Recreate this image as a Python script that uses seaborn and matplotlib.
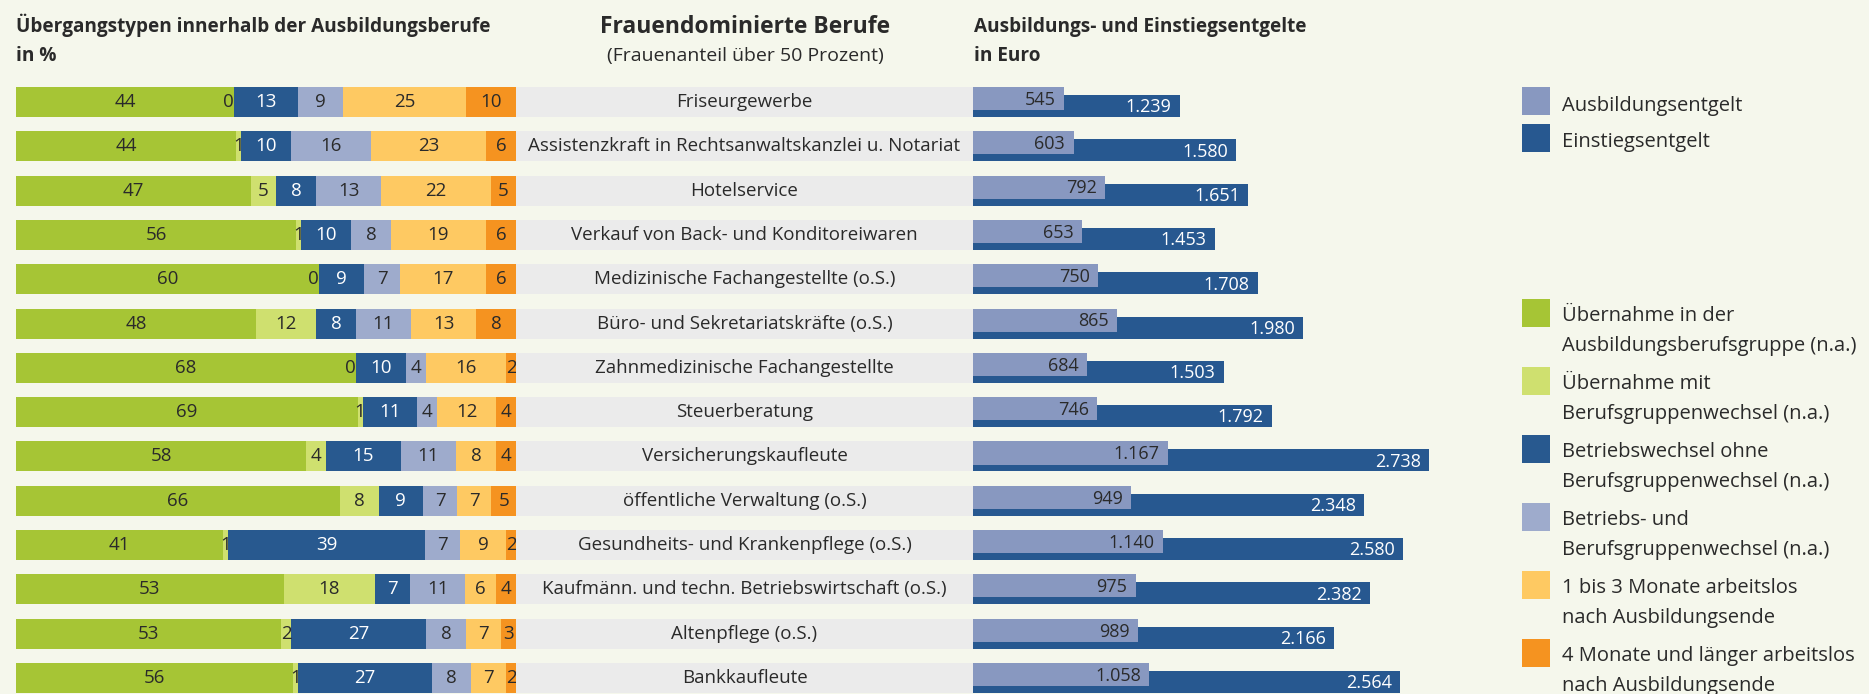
import numpy as np
import pandas as pd
import seaborn as sns
import matplotlib.pyplot as plt
from matplotlib import font_manager
from matplotlib.patches import Rectangle

# Daten
berufe = [
    "Friseurgewerbe",
    "Assistenzkraft in Rechtsanwaltskanzlei u. Notariat",
    "Hotelservice",
    "Verkauf von Back- und Konditoreiwaren",
    "Medizinische Fachangestellte (o.S.)",
    "Büro- und Sekretariatskräfte (o.S.)",
    "Zahnmedizinische Fachangestellte",
    "Steuerberatung",
    "Versicherungskaufleute",
    "öffentliche Verwaltung (o.S.)",
    "Gesundheits- und Krankenpflege (o.S.)",
    "Kaufmänn. und techn. Betriebswirtschaft (o.S.)",
    "Altenpflege (o.S.)",
    "Bankkaufleute",
]
uebernahme = [44, 44, 47, 56, 60, 48, 68, 69, 58, 66, 41, 53, 53, 56]
uebernahme_wechsel = [0, 1, 5, 1, 0, 12, 0, 1, 4, 8, 1, 18, 2, 1]
betrieb_ohne = [13, 10, 8, 10, 9, 8, 10, 11, 15, 9, 39, 7, 27, 27]
betrieb_und = [9, 16, 13, 8, 7, 11, 4, 4, 11, 7, 7, 11, 8, 8]
arbeitslos_1_3 = [25, 23, 22, 19, 17, 13, 16, 12, 8, 7, 9, 6, 7, 7]
arbeitslos_4 = [10, 6, 5, 6, 6, 8, 2, 4, 4, 5, 2, 4, 3, 2]
ausbildungsentgelt = [545, 603, 792, 653, 750, 865, 684, 746, 1167, 949, 1140, 975, 989, 1058]
einstiegsentgelt = [1239, 1580, 1651, 1453, 1708, 1980, 1503, 1792, 2738, 2348, 2580, 2382, 2166, 2564]

typ_labels = [
    "Übernahme in der\nAusbildungsberufsgruppe (n.a.)",
    "Übernahme mit\nBerufsgruppenwechsel (n.a.)",
    "Betriebswechsel ohne\nBerufsgruppenwechsel (n.a.)",
    "Betriebs- und\nBerufsgruppenwechsel (n.a.)",
    "1 bis 3 Monate arbeitslos\nnach Ausbildungsende",
    "4 Monate und länger arbeitslos\nnach Ausbildungsende",
]
typ_colors = ["#a6c535", "#cfe06f", "#28598f", "#9eabcc", "#fec962", "#f59320"]
entgelt_labels = ["Ausbildungsentgelt", "Einstiegsentgelt"]
entgelt_colors = ["#8898c0", "#275890"]

BG = "#f5f7ec"
TXT = "#2a2a2a"

sns.set_style("white")

# schmale Schrift, falls vorhanden
namen = {f.name for f in font_manager.fontManager.ttflist}
if "Liberation Sans Narrow" in namen:
    FONT = "Liberation Sans Narrow"
    fs = dict(seg=15, lab=15, geld=14.5, titel=16, haupt=19, unter=16, leg=17)
else:
    FONT = "Open Sans"
    fs = dict(seg=13.5, lab=13.5, geld=13, titel=13.7, haupt=16.5, unter=14, leg=14.5)
plt.rcParams["font.family"] = [FONT, "DejaVu Sans"]

df = pd.DataFrame(
    {
        "beruf": berufe,
        typ_labels[0]: uebernahme,
        typ_labels[1]: uebernahme_wechsel,
        typ_labels[2]: betrieb_ohne,
        typ_labels[3]: betrieb_und,
        typ_labels[4]: arbeitslos_1_3,
        typ_labels[5]: arbeitslos_4,
    }
)
werte = df[typ_labels]
anteile = werte.div(werte.sum(axis=1), axis=0) * 100
kum = anteile.cumsum(axis=1)

fig = plt.figure(figsize=(18.69, 6.94), dpi=100, facecolor=BG)
W, H = 1869, 694
top_px, bot_px = 79.85, 700.2
ax_b = 1 - bot_px / H
ax_h = (bot_px - top_px) / H

ax_l = fig.add_axes([16 / W, ax_b, 500 / W, ax_h])
ax_m = fig.add_axes([516 / W, ax_b, 457 / W, ax_h])
ax_r = fig.add_axes([973 / W, ax_b, 500 / W, ax_h])

# links: gestapelte Balken (kumuliert, von hinten nach vorne)
for k in reversed(range(len(typ_labels))):
    sns.barplot(x=kum.iloc[:, k].values, y=berufe, orient="h", color=typ_colors[k],
                saturation=1, width=0.677, linewidth=0, errorbar=None, ax=ax_l)
for i in range(len(berufe)):
    start = 0
    for k in range(len(typ_labels)):
        ende = kum.iloc[i, k]
        wert = werte.iloc[i, k]
        farbe = "white" if k == 2 else TXT
        if wert == 0:
            # Null steht links an der Segmentgrenze
            ax_l.text(ende, i, "0", ha="right", va="center", fontsize=fs["seg"], color=farbe)
        else:
            ax_l.text((start + ende) / 2, i, str(wert), ha="center", va="center",
                      fontsize=fs["seg"], color=farbe)
        start = ende
ax_l.set_xlim(0, 100)

# Mitte: Berufsbezeichnungen
sns.barplot(x=np.ones(len(berufe)), y=berufe, orient="h", color="#ebebeb",
            saturation=1, width=0.677, linewidth=0, errorbar=None, ax=ax_m)
for i, b in enumerate(berufe):
    ax_m.text(0.5, i, b, ha="center", va="center", fontsize=fs["lab"], color=TXT)
ax_m.set_xlim(0, 1)

# rechts: Entgelte
pos = np.arange(len(berufe))
sns.barplot(x=einstiegsentgelt, y=pos + 0.09, orient="h", native_scale=True,
            color=entgelt_colors[1], saturation=1, width=0.497, linewidth=0,
            errorbar=None, ax=ax_r)
sns.barplot(x=ausbildungsentgelt, y=pos - 0.079, orient="h", native_scale=True,
            color=entgelt_colors[0], saturation=1, width=0.52, linewidth=0,
            errorbar=None, ax=ax_r)
for i in range(len(berufe)):
    ax_r.annotate(f"{ausbildungsentgelt[i]:,}".replace(",", "."), (ausbildungsentgelt[i], i - 0.05),
                  xytext=(-6, 0), textcoords="offset points", ha="right", va="center",
                  fontsize=fs["geld"], color=TXT)
    ax_r.annotate(f"{einstiegsentgelt[i]:,}".replace(",", "."), (einstiegsentgelt[i], i + 0.12),
                  xytext=(-6, 0), textcoords="offset points", ha="right", va="center",
                  fontsize=fs["geld"], color="white")
ax_r.set_xlim(0, 3000)

for ax in (ax_l, ax_m, ax_r):
    ax.set_ylim(13.5, -0.5)
    ax.set_facecolor("none")
    ax.axis("off")

# Überschriften
fig.text(16 / W, 1 - 32 / H, "Übergangstypen innerhalb der Ausbildungsberufe", fontsize=fs["titel"],
         fontweight="bold", color=TXT, va="baseline")
fig.text(16 / W, 1 - 61 / H, "in %", fontsize=fs["titel"], fontweight="bold", color=TXT,
         va="baseline")
fig.text(745 / W, 1 - 33 / H, "Frauendominierte Berufe", fontsize=fs["haupt"], fontweight="bold",
         color=TXT, va="baseline", ha="center")
fig.text(745 / W, 1 - 61 / H, "(Frauenanteil über 50 Prozent)", fontsize=fs["unter"], color=TXT,
         va="baseline", ha="center")
fig.text(974 / W, 1 - 32 / H, "Ausbildungs- und Einstiegsentgelte", fontsize=fs["titel"],
         fontweight="bold", color=TXT, va="baseline")
fig.text(974 / W, 1 - 61 / H, "in Euro", fontsize=fs["titel"], fontweight="bold", color=TXT,
         va="baseline")

# Legenden
for j, (lab, col) in enumerate(zip(entgelt_labels, entgelt_colors)):
    y0 = 87 + 37 * j
    fig.patches.append(Rectangle((1522 / W, 1 - (y0 + 28) / H), 28 / W, 28 / H,
                                 transform=fig.transFigure, color=col, lw=0))
    fig.text(1562 / W, 1 - (y0 + 23.5) / H, lab, fontsize=fs["leg"], color=TXT, va="baseline")

for j, (lab, col) in enumerate(zip(typ_labels, typ_colors)):
    y0 = 299 + 68 * j
    fig.patches.append(Rectangle((1522 / W, 1 - (y0 + 28) / H), 28 / W, 28 / H,
                                 transform=fig.transFigure, color=col, lw=0))
    for z, zeile in enumerate(lab.split("\n")):
        fig.text(1562 / W, 1 - (y0 + 22 + 29.5 * z) / H, zeile, fontsize=fs["leg"], color=TXT,
                 va="baseline")

fig.savefig("out.png", dpi=100, facecolor=BG)
